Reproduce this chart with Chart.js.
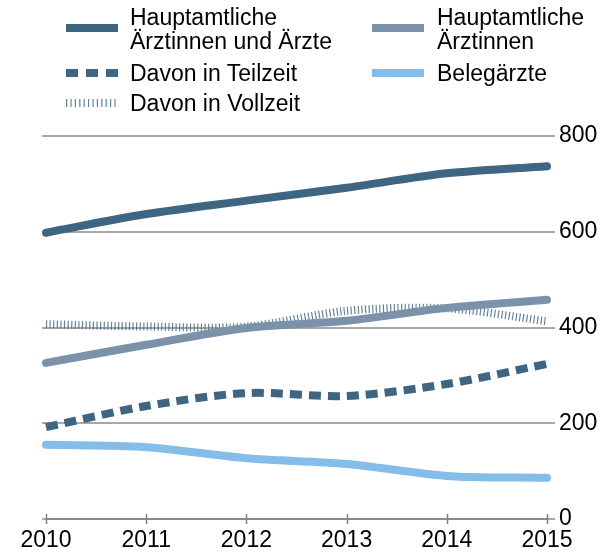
<!DOCTYPE html>
<html>
<head>
<meta charset="utf-8">
<script src="https://cdn.jsdelivr.net/npm/chart.js@4"></script>
<style>
  html, body { margin: 0; padding: 0; background: #fff; }
  #wrap { position: relative; width: 603px; height: 552px; }
  #chart { position: absolute; left: 0; top: 0; }
  .leg { position: absolute; font-family: "Liberation Sans", Arial, sans-serif; font-size: 23px; line-height: 24px; color: #000; white-space: nowrap; }
  .sw { position: absolute; }
</style>
</head>
<body>
<div id="wrap">
  <canvas id="chart" width="603" height="552"></canvas>
  <div id="legend"></div>
</div>
<script>
// Daten
const years = [2010, 2011, 2012, 2013, 2014, 2015]
const hauptamtlich = [598, 637, 665, 692, 722, 737]
const aerztinnen = [326, 364, 399, 414, 441, 458]
const teilzeit = [192, 236, 263, 257, 282, 324]
const vollzeit = [407, 402, 402, 435, 440, 413]
const belegaerzte = [155, 150, 127, 115, 90, 86]
const yTicks = [0, 200, 400, 600, 800]

const DARK = '#3e6581'
const GREYBLUE = '#7b92aa'
const LIGHT = '#84bee8'
const HATCH = 'rgba(62,101,129,0.8)'
const FONT = '"Liberation Sans", Arial, sans-serif'

const pts = (arr) => arr.map((v, i) => ({ x: years[i], y: v }))

// Legende (HTML, zwei Spalten)
const legendItems = [
  { text: 'Hauptamtliche<br>Ärztinnen und Ärzte', x: 66, y: 28, tx: 130, ty: 5, color: DARK, dash: '' },
  { text: 'Hauptamtliche<br>Ärztinnen', x: 372, y: 28, tx: 437, ty: 5, color: GREYBLUE, dash: '' },
  { text: 'Davon in Teilzeit', x: 66, y: 73, tx: 130, ty: 61, color: DARK, dash: '12 8' },
  { text: 'Belegärzte', x: 372, y: 73, tx: 437, ty: 61, color: LIGHT, dash: '' },
  { text: 'Davon in Vollzeit', x: 66, y: 103, tx: 130, ty: 91, color: HATCH, dash: '1.2 3.2' }
]
let html = ''
legendItems.forEach(it => {
  html += `<svg class="sw" style="left:${it.x}px;top:${it.y - 5}px" width="54" height="10">
    <line x1="0" y1="5" x2="52" y2="5" stroke="${it.color}" stroke-width="8" stroke-dasharray="${it.dash}"/></svg>`
  html += `<div class="leg" style="left:${it.tx}px;top:${it.ty}px">${it.text}</div>`
})
document.getElementById('legend').innerHTML = html

// x-Achse mit Strichen nach oben und unten
const axisPlugin = {
  id: 'axisLine',
  afterDatasetsDraw(chart) {
    const ctx = chart.ctx
    const xs = chart.scales.x
    const y0 = chart.scales.y.getPixelForValue(0)
    ctx.save()
    ctx.strokeStyle = '#808080'
    ctx.lineWidth = 1.5
    ctx.beginPath()
    ctx.moveTo(xs.getPixelForValue(years[0]), y0)
    ctx.lineTo(xs.getPixelForValue(years[years.length - 1]), y0)
    years.forEach(yr => {
      const px = Math.round(xs.getPixelForValue(yr)) + 0.5
      ctx.moveTo(px, y0 - 5)
      ctx.lineTo(px, y0 + 5)
    })
    ctx.stroke()
    ctx.restore()
  }
}

const ctx = document.getElementById('chart').getContext('2d')
new Chart(ctx, {
  type: 'line',
  data: {
    datasets: [
      { label: 'Hauptamtliche Ärztinnen und Ärzte', data: pts(hauptamtlich), borderColor: DARK, borderWidth: 8, borderCapStyle: 'round' },
      { label: 'Hauptamtliche Ärztinnen', data: pts(aerztinnen), borderColor: GREYBLUE, borderWidth: 8, borderCapStyle: 'round' },
      { label: 'Davon in Teilzeit', data: pts(teilzeit), borderColor: DARK, borderWidth: 8, borderDash: [12, 7], borderCapStyle: 'butt' },
      { label: 'Belegärzte', data: pts(belegaerzte), borderColor: LIGHT, borderWidth: 8, borderCapStyle: 'round' },
      { label: 'Davon in Vollzeit', data: pts(vollzeit), borderColor: HATCH, borderWidth: 8, borderDash: [1.2, 2.4], borderCapStyle: 'butt' }
    ]
  },
  options: {
    responsive: false,
    animation: false,
    layout: { padding: { top: 136, left: 42, right: 0, bottom: 0 } },
    elements: {
      point: { radius: 0 },
      line: { tension: 0.3, fill: false }
    },
    plugins: {
      legend: { display: false },
      tooltip: { enabled: false }
    },
    scales: {
      x: {
        type: 'linear',
        min: 2009.96,
        max: 2015.08,
        afterBuildTicks: (scale) => { scale.ticks = years.map(v => ({ value: v })) },
        afterFit: (scale) => { scale.height = 33 },
        grid: { display: false },
        border: { display: false },
        ticks: {
          color: '#000',
          padding: 0,
          maxRotation: 0,
          autoSkip: false,
          font: { family: FONT, size: 23 },
          callback: (v) => String(v)
        }
      },
      y: {
        position: 'right',
        min: 0,
        max: 800,
        afterBuildTicks: (scale) => { scale.ticks = yTicks.map(v => ({ value: v })) },
        afterFit: (scale) => { scale.width = 48 },
        grid: { color: '#a8a8a8', lineWidth: 2, drawTicks: false },
        border: { display: false },
        ticks: {
          color: '#000',
          padding: 4,
          font: { family: FONT, size: 23 }
        }
      }
    }
  },
  plugins: [axisPlugin]
})
</script>
</body>
</html>
